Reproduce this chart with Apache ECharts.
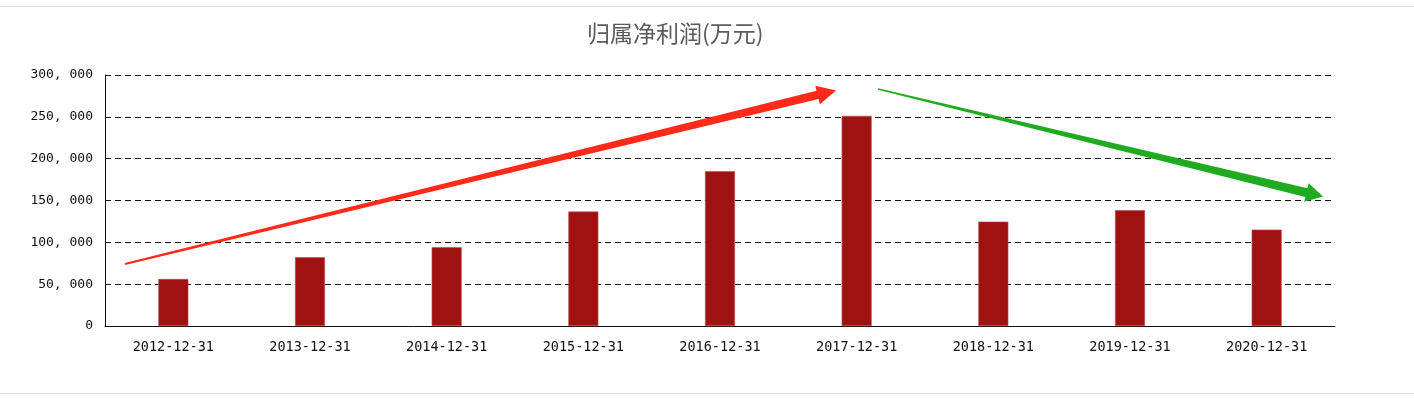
<!DOCTYPE html>
<html>
<head>
<meta charset="utf-8">
<script src="https://cdn.jsdelivr.net/npm/echarts@6/dist/echarts.min.js"></script>
<style>
html,body{margin:0;padding:0;background:#fff;}
#c{width:1414px;height:408px;}
</style>
</head>
<body>
<div id="c"></div>
<script>
const categories = ['2012-12-31','2013-12-31','2014-12-31','2015-12-31','2016-12-31','2017-12-31','2018-12-31','2019-12-31','2020-12-31'];
const profit = [56200, 82200, 94200, 136800, 185100, 251200, 124800, 138400, 115200];
const yTicks = [0, 50000, 100000, 150000, 200000, 250000, 300000];
const yTickLabels = ['0', '50, 000', '100, 000', '150, 000', '200, 000', '250, 000', '300, 000'];
// trend arrows: [startCategoryPos, startValue, endCategoryPos, endValue]
const redArrow = [-0.354, 74200, 4.849, 281600];
const greenArrow = [5.156, 283300, 8.412, 154700];

const arrowStyles = [
  {color:'#FF2A1A', w0:2, w1:8.5, headLen:19, headHalf:9.5},
  {color:'#1FAA1F', w0:1.5, w1:9, headLen:17, headHalf:9.5}
];

const chart = echarts.init(document.getElementById('c'));
chart.setOption({
  backgroundColor:'#fff',
  animation:false,
  title:{
    text:'归属净利润(万元)',
    left:582, top:17,
    textStyle:{fontFamily:'Noto Sans CJK SC', fontSize:23, fontWeight:'normal', color:'#5a5a5a'}
  },
  graphic:[
    {type:'line', shape:{x1:0,y1:6.5,x2:1414,y2:6.5}, style:{stroke:'#dcdcdc', lineWidth:1}, silent:true},
    {type:'line', shape:{x1:0,y1:393.5,x2:1414,y2:393.5}, style:{stroke:'#dcdcdc', lineWidth:1}, silent:true}
  ],
  grid:{left:105, right:79, top:75, bottom:82, containLabel:false},
  xAxis:[
    {
      type:'category', data:categories,
      axisLine:{onZero:false, lineStyle:{color:'#111', width:1}},
      axisTick:{show:false},
      axisLabel:{fontFamily:'DejaVu Sans Mono', fontSize:13.5, color:'#111', margin:14, interval:0}
    },
    {type:'value', min:-0.5, max:8.5, show:false}
  ],
  yAxis:{
    type:'value', min:0, max:300000, interval:50000,
    axisLine:{show:true, onZero:false, lineStyle:{color:'#111', width:1}},
    axisTick:{show:false},
    axisLabel:{
      fontFamily:'DejaVu Sans Mono', fontSize:13, color:'#111', margin:12,
      formatter:function(v){ const i = yTicks.indexOf(v); return i>=0 ? yTickLabels[i] : ''; }
    },
    splitLine:{show:true, lineStyle:{color:'#111', type:[6,4], width:1.2}}
  },
  series:[
    {
      type:'bar', data:profit, barWidth:30,
      itemStyle:{color:'#A01212', borderColor:'#b85050', borderWidth:0.6},
      silent:true
    },
    {
      type:'custom', xAxisIndex:1, yAxisIndex:0, silent:true, clip:false, z:5,
      data:[redArrow, greenArrow],
      renderItem:function(params, api){
        const st = arrowStyles[params.dataIndex];
        const s = api.coord([api.value(0), api.value(1)]);
        const t = api.coord([api.value(2), api.value(3)]);
        const dx = t[0]-s[0], dy = t[1]-s[1];
        const len = Math.sqrt(dx*dx+dy*dy);
        const ux = dx/len, uy = dy/len;
        const nx = -uy, ny = ux;
        const bx = t[0]-ux*st.headLen, by = t[1]-uy*st.headLen;
        const pts = [
          [s[0]+nx*st.w0/2, s[1]+ny*st.w0/2],
          [bx+nx*st.w1/2, by+ny*st.w1/2],
          [bx+nx*st.headHalf, by+ny*st.headHalf],
          [t[0], t[1]],
          [bx-nx*st.headHalf, by-ny*st.headHalf],
          [bx-nx*st.w1/2, by-ny*st.w1/2],
          [s[0]-nx*st.w0/2, s[1]-ny*st.w0/2]
        ];
        return {type:'polygon', shape:{points:pts}, style:{fill:st.color}};
      }
    }
  ]
});
</script>
</body>
</html>
